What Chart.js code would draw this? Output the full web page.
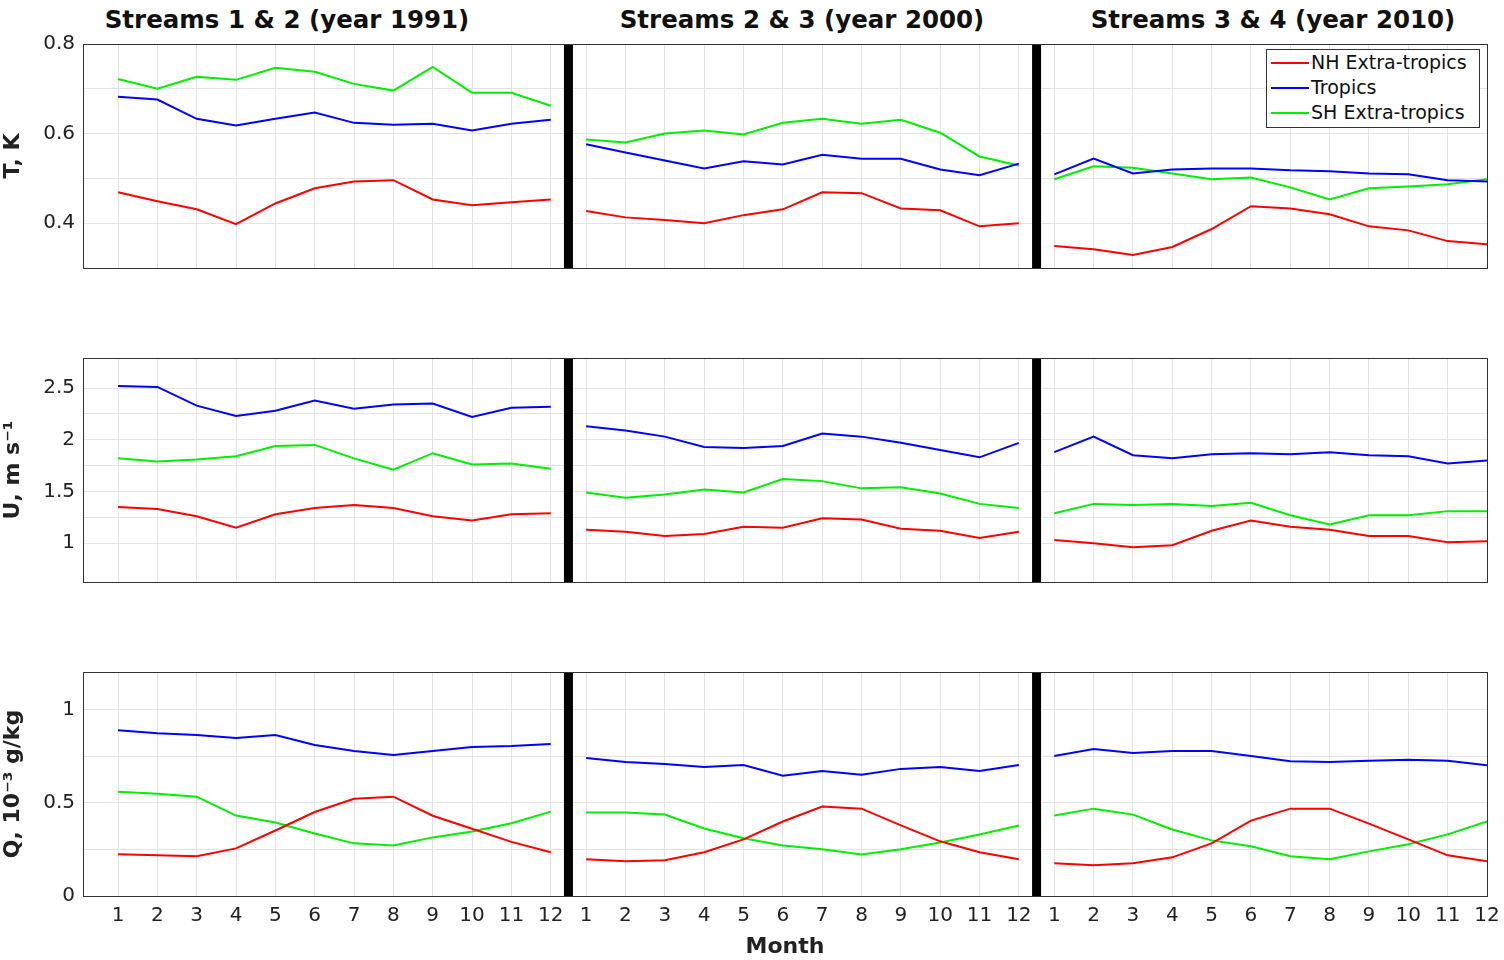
<!DOCTYPE html>
<html>
<head>
<meta charset="utf-8">
<script src="https://cdn.jsdelivr.net/npm/chart.js@4"></script>
<style>
  body { margin: 0; background: #fff; width: 1504px; height: 960px; position: relative; overflow: hidden; font-family: "DejaVu Sans", sans-serif; }
  canvas { position: absolute; left: 0; }
  .title { position: absolute; top: 5px; font-weight: bold; font-size: 24.5px; transform: translateX(-50%); white-space: nowrap; color: #111; }
  #legend { position: absolute; left: 1266px; top: 49px; width: 212px; height: 77px; border: 1px solid #333; background: #fff; font-size: 19px; color: #111; }
  #legend div { height: 25px; line-height: 25px; position: relative; padding-left: 44px; }
  #legend span { position: absolute; left: 4px; top: 12px; width: 38px; height: 2px; }
</style>
</head>
<body>
<div class="title" style="left:287px">Streams 1 &amp; 2 (year 1991)</div>
<div class="title" style="left:802px">Streams 2 &amp; 3 (year 2000)</div>
<div class="title" style="left:1273px">Streams 3 &amp; 4 (year 2010)</div>
<canvas id="c1" style="top:0px"></canvas>
<canvas id="c2" style="top:314px"></canvas>
<canvas id="c3" style="top:628px"></canvas>
<div id="legend">
  <div><span style="background:#ff0000"></span>NH Extra-tropics</div>
  <div><span style="background:#0000ff"></span>Tropics</div>
  <div><span style="background:#00ee00"></span>SH Extra-tropics</div>
</div>
<script>
const months = [1, 2, 3, 4, 5, 6, 7, 8, 9, 10, 11, 12];
const panelOffset = 11.9;
const separators = [12.45, 24.35];
const seriesNames = ["NH Extra-tropics", "Tropics", "SH Extra-tropics"];
const seriesColors = ["#ff0000", "#0000ff", "#00ee00"];

// T, K  (one list per panel)
const tNH = [
  [0.469, 0.449, 0.431, 0.398, 0.444, 0.478, 0.493, 0.496, 0.453, 0.44, 0.447, 0.453],
  [0.427, 0.413, 0.407, 0.4, 0.418, 0.431, 0.469, 0.467, 0.433, 0.429, 0.393, 0.4],
  [0.349, 0.342, 0.329, 0.347, 0.387, 0.438, 0.433, 0.42, 0.393, 0.384, 0.36, 0.353],
];
const tTR = [
  [0.682, 0.676, 0.633, 0.618, 0.633, 0.647, 0.624, 0.62, 0.622, 0.607, 0.622, 0.631],
  [0.576, 0.558, 0.54, 0.522, 0.538, 0.531, 0.553, 0.544, 0.544, 0.52, 0.507, 0.533],
  [0.509, 0.544, 0.511, 0.52, 0.522, 0.522, 0.518, 0.516, 0.511, 0.509, 0.496, 0.493],
];
const tSH = [
  [0.722, 0.7, 0.727, 0.72, 0.747, 0.738, 0.711, 0.696, 0.749, 0.691, 0.691, 0.662],
  [0.587, 0.58, 0.6, 0.607, 0.598, 0.624, 0.633, 0.622, 0.631, 0.602, 0.549, 0.529],
  [0.498, 0.527, 0.524, 0.511, 0.498, 0.502, 0.48, 0.453, 0.478, 0.482, 0.487, 0.498],
];

// U, m s-1
const uNH = [
  [1.35, 1.33, 1.26, 1.15, 1.28, 1.34, 1.37, 1.34, 1.26, 1.22, 1.28, 1.29],
  [1.13, 1.11, 1.07, 1.09, 1.16, 1.15, 1.24, 1.23, 1.14, 1.12, 1.05, 1.11],
  [1.03, 1.0, 0.96, 0.98, 1.12, 1.22, 1.16, 1.13, 1.07, 1.07, 1.01, 1.02],
];
const uTR = [
  [2.52, 2.51, 2.33, 2.23, 2.28, 2.38, 2.3, 2.34, 2.35, 2.22, 2.31, 2.32],
  [2.13, 2.09, 2.03, 1.93, 1.92, 1.94, 2.06, 2.03, 1.97, 1.9, 1.83, 1.97],
  [1.88, 2.03, 1.85, 1.82, 1.86, 1.87, 1.86, 1.88, 1.85, 1.84, 1.77, 1.8],
];
const uSH = [
  [1.82, 1.79, 1.81, 1.84, 1.94, 1.95, 1.82, 1.71, 1.87, 1.76, 1.77, 1.72],
  [1.49, 1.44, 1.47, 1.52, 1.49, 1.62, 1.6, 1.53, 1.54, 1.48, 1.38, 1.34],
  [1.29, 1.38, 1.37, 1.38, 1.36, 1.39, 1.27, 1.18, 1.27, 1.27, 1.31, 1.31],
];

// Q, 10-3 g/kg
const qNH = [
  [0.223, 0.218, 0.213, 0.255, 0.351, 0.45, 0.521, 0.532, 0.43, 0.36, 0.29, 0.234],
  [0.197, 0.186, 0.191, 0.234, 0.303, 0.399, 0.479, 0.468, 0.378, 0.293, 0.234, 0.197],
  [0.176, 0.165, 0.176, 0.207, 0.282, 0.404, 0.468, 0.468, 0.388, 0.303, 0.218, 0.186],
];
const qTR = [
  [0.888, 0.872, 0.862, 0.846, 0.862, 0.809, 0.777, 0.755, 0.777, 0.798, 0.803, 0.814],
  [0.739, 0.718, 0.707, 0.691, 0.702, 0.644, 0.67, 0.649, 0.681, 0.691, 0.67, 0.702],
  [0.75, 0.787, 0.766, 0.777, 0.777, 0.75, 0.722, 0.718, 0.724, 0.73, 0.724, 0.7],
];
const qSH = [
  [0.559, 0.548, 0.532, 0.431, 0.394, 0.335, 0.282, 0.271, 0.314, 0.345, 0.39, 0.452],
  [0.447, 0.447, 0.436, 0.362, 0.309, 0.271, 0.25, 0.223, 0.25, 0.287, 0.33, 0.378],
  [0.431, 0.468, 0.436, 0.356, 0.298, 0.266, 0.213, 0.197, 0.239, 0.277, 0.33, 0.399],
];

const tickPositions = [];
for (let p = 0; p < 3; p++) months.forEach((m) => tickPositions.push(p * panelOffset + m));

function toPoints(panels) {
  const pts = [];
  panels.forEach((vals, p) => {
    vals.forEach((v, i) => pts.push({ x: p * panelOffset + months[i], y: v }));
    pts.push({ x: p * panelOffset + 12.2, y: null });
  });
  return pts;
}

const boxPlugin = {
  id: "box",
  afterDraw(chart) {
    const a = chart.chartArea;
    const c = chart.ctx;
    c.save();
    c.strokeStyle = "#333";
    c.lineWidth = 1;
    c.strokeRect(a.left + 0.5, a.top + 0.5, a.right - a.left, a.bottom - a.top);
    c.restore();
  },
};

function makeChart(id, h, series, yTitle, yMin, yMax, step, labelStep, showX) {
  const el = document.getElementById(id);
  el.width = 1504;
  el.height = h;
  el.style.width = "1504px";
  el.style.height = h + "px";

  const datasets = series.map((s, i) => ({
    label: seriesNames[i],
    data: toPoints(s),
    borderColor: seriesColors[i],
    borderWidth: 2,
    pointRadius: 0,
    spanGaps: false,
    tension: 0,
  }));
  separators.forEach((x) => {
    datasets.push({
      data: [{ x: x, y: yMin }, { x: x, y: yMax }],
      borderColor: "#000",
      borderWidth: 9,
      pointRadius: 0,
    });
  });

  return new Chart(el, {
    type: "line",
    data: { datasets },
    options: {
      responsive: false,
      animation: false,
      layout: { padding: { top: 44, right: 17 } },
      plugins: { legend: { display: false }, tooltip: { enabled: false } },
      scales: {
        x: {
          type: "linear",
          min: 0.11,
          max: 35.8,
          afterBuildTicks: (scale) => {
            scale.ticks = tickPositions.map((v) => ({ value: v }));
          },
          afterFit: (scale) => {
            scale.height = showX ? 64 : 32;
            scale.paddingLeft = 0;
            scale.paddingRight = 0;
          },
          grid: { color: "#e3e3e3", tickLength: 0 },
          border: { color: "#333" },
          ticks: {
            display: showX,
            autoSkip: false,
            maxRotation: 0,
            color: "#222",
            font: { family: "DejaVu Sans", size: 20 },
            padding: 8,
            callback: (v) => {
              const p = v > 24.6 ? 2 : v > 12.6 ? 1 : 0;
              return String(Math.round(v - p * panelOffset));
            },
          },
          title: {
            display: showX,
            text: "Month",
            color: "#222",
            font: { family: "DejaVu Sans", size: 22, weight: "bold" },
            padding: 0,
          },
        },
        y: {
          min: yMin,
          max: yMax,
          afterFit: (scale) => {
            scale.width = 83;
          },
          grid: { color: "#e3e3e3", tickLength: 0 },
          border: { color: "#333" },
          ticks: {
            stepSize: step,
            color: "#222",
            padding: 8,
            font: { family: "DejaVu Sans", size: 20 },
            callback: (v) => {
              const r = v / labelStep;
              if (Math.abs(r - Math.round(r)) > 1e-6) return "";
              if (v < yMin + 1e-6 && yMin !== 0) return "";
              return String(Math.round(v * 100) / 100);
            },
          },
          title: {
            display: true,
            text: yTitle,
            color: "#222",
            font: { family: "DejaVu Sans", size: 22, weight: "bold" },
            padding: { top: 0, bottom: 4 },
          },
        },
      },
    },
    plugins: [boxPlugin],
  });
}

makeChart("c1", 300, [tNH, tTR, tSH], "T, K", 0.3, 0.8, 0.1, 0.2, false);
makeChart("c2", 300, [uNH, uTR, uSH], "U, m s\u207B\u00B9", 0.625, 2.79, 0.25, 0.5, false);
makeChart("c3", 332, [qNH, qTR, qSH], "Q, 10\u207B\u00B3 g/kg", 0, 1.2, 0.25, 0.5, true);
</script>
</body>
</html>
